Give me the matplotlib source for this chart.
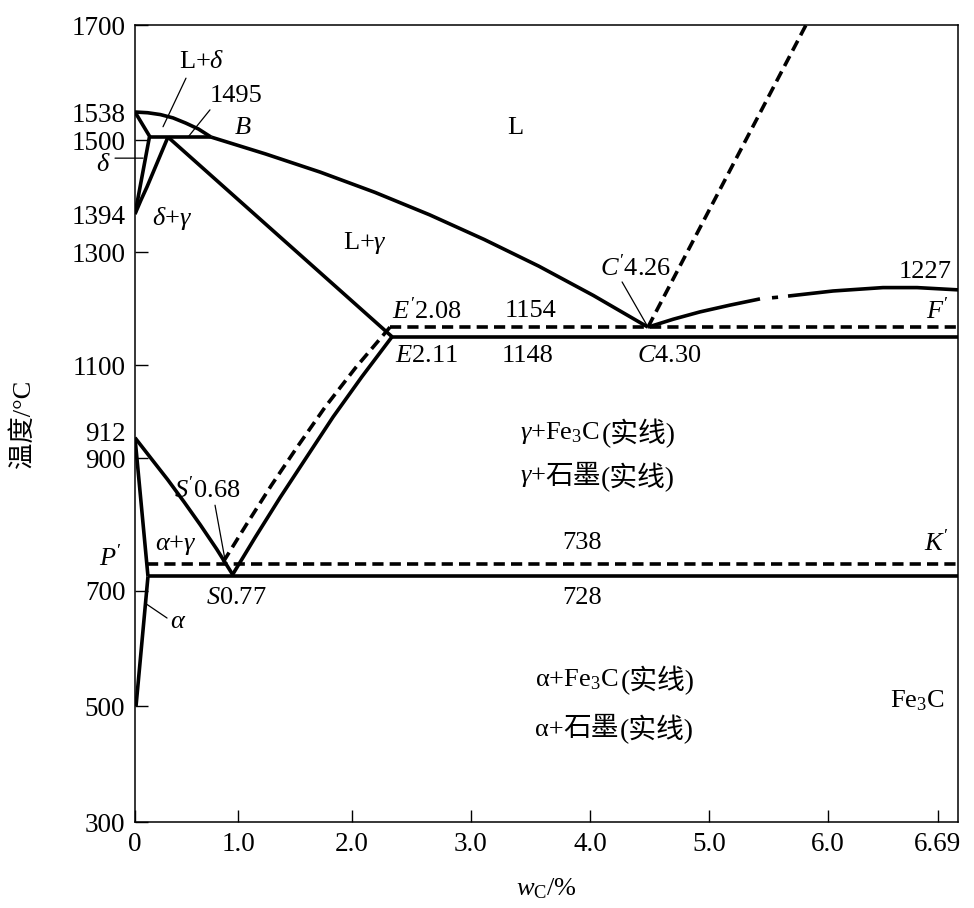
import numpy as np
import matplotlib
matplotlib.use('Agg')
import matplotlib.pyplot as plt

plt.rcParams['font.family'] = ['Liberation Serif', 'Noto Sans CJK SC']
plt.rcParams['mathtext.fontset'] = 'custom'
plt.rcParams['mathtext.rm'] = 'Liberation Serif'
plt.rcParams['mathtext.it'] = 'Liberation Serif:italic'
plt.rcParams['mathtext.bf'] = 'Liberation Serif:bold'

# the printed diagram is not drawn to scale: axis values and where they sit
x_knots = [0, 1, 2, 3, 4, 5, 6, 6.69, 6.82]
x_drawn = [0, 103, 217, 335.8, 455, 573.8, 692.6, 803, 823]
y_knots = [300, 500, 700, 900, 912, 1100, 1300, 1394, 1500, 1538, 1700]
y_drawn = [0, 116, 231, 364, 391, 457, 570, 608, 682, 710, 797]

x_ticks = [0, 1, 2, 3, 4, 5, 6, 6.69]
x_ticklabels = ['0', '1.0', '2.0', '3.0', '4.0', '5.0', '6.0', '6.69']
y_ticks = [300, 500, 700, 900, 1100, 1300, 1500, 1700]
y_extra = [912, 1394, 1538]

# phase boundaries (w_C %, T)
AB_w = [0, 0.123, 0.246, 0.369, 0.492, 0.615, 0.738]
AB_T = [1538, 1537, 1534.5, 1530, 1523, 1515, 1504]
BC_w = [0.738, 1.242, 1.721, 2.193, 2.653, 3.112, 3.570, 4.029, 4.488]
BC_T = [1504, 1480, 1454, 1425, 1392, 1331, 1275, 1223, 1167]
AH_w, AH_T = [0, 0.146], [1538, 1504]
NH_w, NH_T = [0, 0.14], [1394, 1504]
NJ_w, NJ_T = [0, 0.058, 0.117, 0.214, 0.32], [1394, 1414, 1433, 1467, 1504]
HJB_w, HJB_T = [0.14, 0.738], [1504, 1504]
JE_w, JE_T = [0.32, 2.337], [1504, 1150]
ECF_w, ECF_T = [2.337, 6.82], [1150, 1150]
ECF_g_w, ECF_g_T = [2.32, 6.82], [1167, 1167]
ES_w = [2.337, 2.082, 1.834, 1.597, 1.371, 1.152, 0.945]
ES_T = [1150, 1066, 952, 900, 841, 781, 724]
ES_g_w = [2.32, 2.032, 1.766, 1.521, 1.293, 1.074, 0.846]
ES_g_T = [1167, 1093, 981, 905, 859, 800, 741]
GS_w = [0, 0.158, 0.317, 0.476, 0.634, 0.793, 0.951]
GS_T = [909, 899, 867.5, 834, 799.5, 763, 724]
GP_w, GP_T = [0, 0.126], [909, 722]
PQ_w, PQ_T = [0.126, 0.01], [722, 500]
PSK_w, PSK_T = [0.126, 6.82], [722, 722]
PSK_g_w, PSK_g_T = [0.117, 6.82], [741, 741]
CD_g_w, CD_g_T = [4.488, 5.818], [1167, 1700]
CD1_w, CD1_T = [4.488, 4.70, 4.926, 5.179, 5.431], [1167, 1181, 1194, 1206, 1217]
CD2_w, CD2_T = [5.532, 5.583], [1219, 1220]
CD3_w = [5.667, 6.034, 6.346, 6.559, 6.82]
CD3_T = [1222, 1231, 1237, 1237, 1233]


def piecewise(knots, drawn):
    k = np.asarray(knots, float)
    d = np.asarray(drawn, float)

    def mapper(a, b):
        def f(v):
            v = np.asarray(v, float)
            out = np.interp(v, a, b)
            out = np.where(v < a[0], b[0] + (v - a[0]) * (b[1] - b[0]) / (a[1] - a[0]), out)
            out = np.where(v > a[-1], b[-1] + (v - a[-1]) * (b[-1] - b[-2]) / (a[-1] - a[-2]), out)
            return out
        return f

    return mapper(k, d), mapper(d, k)


LW = 2.6
FS = 19

fig = plt.figure(figsize=(9.74, 9.08), dpi=100)
ax = fig.add_axes([135 / 974, 1 - 822 / 908, (958 - 135) / 974, (822 - 25) / 908])
ax.set_xscale('function', functions=piecewise(x_knots, x_drawn))
ax.set_yscale('function', functions=piecewise(y_knots, y_drawn))
ax.set_xlim(0, 6.82)
ax.set_ylim(300, 1700)

solid = dict(color='k', lw=LW, solid_joinstyle='round', solid_capstyle='butt')
dashed = dict(color='k', lw=LW, ls=(0, (3.1, 1.7)))

for w, T in [(AB_w, AB_T), (BC_w, BC_T), (AH_w, AH_T), (NH_w, NH_T), (NJ_w, NJ_T),
             (HJB_w, HJB_T), (JE_w, JE_T), (ECF_w, ECF_T), (ES_w, ES_T), (GS_w, GS_T),
             (GP_w, GP_T), (PQ_w, PQ_T), (PSK_w, PSK_T), (CD1_w, CD1_T), (CD2_w, CD2_T),
             (CD3_w, CD3_T)]:
    ax.plot(w, T, **solid)
for w, T in [(ECF_g_w, ECF_g_T), (ES_g_w, ES_g_T), (PSK_g_w, PSK_g_T), (CD_g_w, CD_g_T)]:
    ax.plot(w, T, **dashed)

# leader lines
leaders = [((0.728, 1542), (0.515, 1504)),
           ((0.495, 1601), (0.272, 1518)),
           ((-0.194, 1474), (0.078, 1474)),
           ((0.777, 829), (0.874, 747)),
           ((0.097, 679), (0.311, 653)),
           ((4.27, 1247), (4.48, 1170))]
for start, end in leaders:
    ax.annotate('', xy=end, xytext=start, annotation_clip=False,
                arrowprops=dict(arrowstyle='-', lw=0.9, color='k', shrinkA=0, shrinkB=0))

labels = [
    (3.37, 1516, 'L'),
    (2.11, 1322, r'L+$\gamma$'),
    (0.36, 1384, r'$\delta$+$\gamma$'),
    (1.04, 1516, r'$B$'),
    (0.98, 1568, '1495'),
    (0.65, 1631, r'L+$\delta$'),
    (2.63, 1196, r"$E'$2.08"),
    (2.63, 1116, r'$E$2.11'),
    (3.50, 1196, '1154'),
    (3.48, 1116, '1148'),
    (4.67, 1116, r'$C$4.30'),
    (4.38, 1272, r"$C'$4.26"),
    (6.61, 1265, '1227'),
    (6.69, 1196, r"$F'$"),
    (3.93, 772, '738'),
    (6.68, 772, r"$K'$"),
    (3.93, 688, '728'),
    (6.56, 510, r'Fe$_3$C'),
    (0.98, 688, r'$S$0.77'),
    (0.70, 852, r"$S'$0.68"),
    (0.40, 769, r'$\alpha$+$\gamma$'),
    (-0.233, 750, r"$P'$"),
    (0.417, 646, r'$\alpha$'),
    (-0.31, 1464, r'$\delta$'),
]
for x, y, s in labels:
    ax.text(x, y, s, fontsize=FS, ha='center', va='center', clip_on=False)

# region labels with Chinese notes
regions = [
    (3.41, 911, r'$\gamma$+Fe$_3$C'),
    (3.41, 871, r'$\gamma$+石墨'),
    (3.54, 545, r'α+Fe$_3$C'),
    (3.54, 459, 'α+石墨'),
]
for x, y, s in regions:
    gap = 1.5
    if '石墨' in s:
        head = s.split('+')[0] + '+'
        t = ax.text(x, y, head, fontsize=FS, ha='left', va='center')
        t = ax.annotate('石墨', xy=(1, 0.5), xycoords=t, fontsize=FS + 1,
                        ha='left', va='center')
        gap = 0
    else:
        t = ax.text(x, y, s, fontsize=FS, ha='left', va='center')
    ax.annotate('(实线)', xy=(1, 0.5), xycoords=t, xytext=(gap, 0),
                textcoords='offset points', fontsize=FS + 1, ha='left', va='center')

ax.set_xticks(x_ticks, x_ticklabels)
ax.set_yticks(y_ticks, [str(v) for v in y_ticks])
ax.set_yticks(y_extra, [str(v) for v in y_extra], minor=True)
ax.set_xticks([], minor=True)
ax.tick_params(which='major', direction='in', length=9, width=1.0, labelsize=FS + 0.5, pad=7)
ax.tick_params(which='minor', direction='in', length=0, labelsize=FS + 0.5, pad=7)
for sp in ax.spines.values():
    sp.set_linewidth(1.1)

ax.set_xlabel(r'$w_{\mathrm{C}}$/%', fontsize=FS, labelpad=14)
ax.set_ylabel('温度/°C', fontsize=FS, labelpad=26)

fig.savefig('out.png', dpi=100)
